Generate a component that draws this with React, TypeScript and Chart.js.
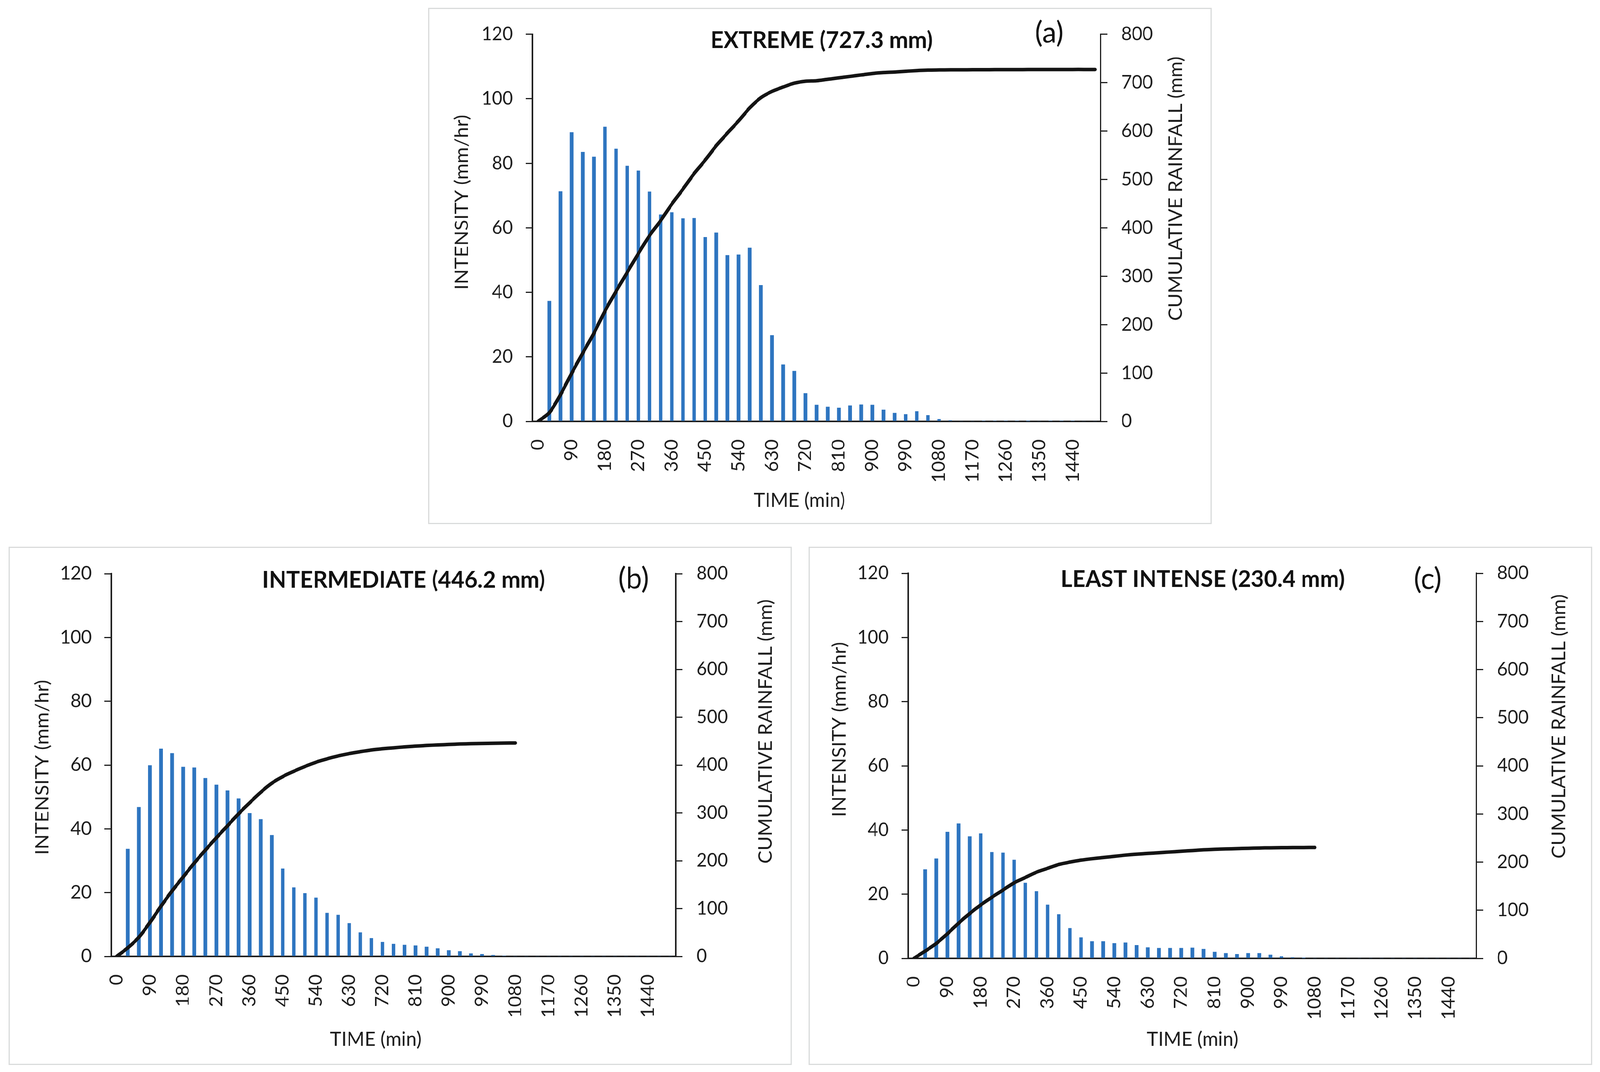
import React, { useEffect, useRef } from "react";
import { Chart, registerables } from "chart.js";

Chart.register(...registerables);

// ---------------- DATA ----------------
const timeCategories = [
  "0", "30", "60", "90", "120", "150", "180", "210", "240", "270",
  "300", "330", "360", "390", "420", "450", "480", "510", "540", "570",
  "600", "630", "660", "690", "720", "750", "780", "810", "840", "870",
  "900", "930", "960", "990", "1020", "1050", "1080", "1110", "1140", "1170",
  "1200", "1230", "1260", "1290", "1320", "1350", "1380", "1410", "1440", "1470",
  "1500",
];

const shownTickLabels = [
  "0", "90", "180", "270", "360", "450", "540", "630", "720", "810",
  "900", "990", "1080", "1170", "1260", "1350", "1440",
];

const extremeIntensity = [
  0, 37.3, 71.3, 89.6, 83.5, 82.0, 91.3, 84.5, 79.2, 77.7,
  71.2, 64.1, 64.8, 62.9, 63.0, 57.1, 58.5, 51.5, 51.7, 53.8,
  42.2, 26.7, 17.6, 15.6, 8.7, 5.1, 4.5, 4.2, 4.9, 5.2,
  5.1, 3.6, 2.6, 2.2, 3.1, 1.9, 0.7, 0.3, 0, 0,
  0.2, 0.2, 0.2, 0.2, 0.1, 0, 0.2, 0.2, 0.2, 0,
  0,
];

const extremeCumulative = [
  0, 18, 55, 99, 141, 182, 228, 269, 308, 347,
  384, 415, 449, 480, 512, 540, 570, 596, 621, 648,
  669, 682, 691, 699, 703, 704, 707, 710, 713, 716,
  719, 721, 722, 723.5, 725, 726, 726.3, 726.5, 726.6, 726.7,
  726.8, 726.9, 727, 727, 727.1, 727.1, 727.2, 727.2, 727.3, 727.3,
  727.3,
];

const intermediateIntensity = [
  0, 33.7, 46.8, 59.9, 65.1, 63.7, 59.4, 59.2, 55.9, 53.8,
  52.0, 49.5, 44.9, 43.0, 38.0, 27.5, 21.6, 19.8, 18.4, 13.6,
  13.0, 10.4, 7.5, 5.7, 4.5, 3.9, 3.6, 3.4, 3.0, 2.5,
  1.9, 1.6, 0.9, 0.7, 0.4, 0.2, 0, 0, 0, 0,
  0, 0, 0, 0, 0, 0, 0, 0, 0, 0,
  0,
];

const intermediateCumulative = [
  0, 18, 40, 71, 105, 137, 166, 195, 222, 248,
  273, 298, 321, 343, 362, 376, 387, 397, 406, 413,
  419, 424, 428, 431.5, 434, 436, 438, 439.5, 441, 442,
  443, 444, 444.6, 445.1, 445.5, 445.9, 446.2, null, null, null,
  null, null, null, null, null, null, null, null, null, null,
  null,
];

const leastIntensity = [
  0, 27.7, 31.1, 39.4, 42.0, 38.0, 38.9, 33.1, 32.9, 30.7,
  23.5, 20.9, 16.7, 13.7, 9.4, 6.5, 5.3, 5.3, 4.7, 4.9,
  4.1, 3.4, 3.2, 3.2, 3.2, 3.3, 2.9, 2.0, 1.6, 1.3,
  1.6, 1.6, 1.1, 0.6, 0.3, 0.1, 0, 0, 0, 0,
  0, 0, 0, 0, 0, 0, 0, 0, 0, 0,
  0,
];

const leastCumulative = [
  0, 15, 31, 51, 73, 93, 111, 127, 142, 157,
  168, 179, 187, 195, 200, 204, 207, 209.5, 212, 214.5,
  216.5, 218, 219.5, 221, 222.5, 224, 225.5, 226.5, 227.3, 228,
  228.7, 229.3, 229.7, 230, 230.2, 230.3, 230.4, null, null, null,
  null, null, null, null, null, null, null, null, null, null,
  null,
];

const panelTitles = ["EXTREME (727.3 mm)", "INTERMEDIATE (446.2 mm)", "LEAST INTENSE (230.4 mm)"];
const panelLetters = ["(a)", "(b)", "(c)"];
const leftAxisTitle = "INTENSITY (mm/hr)";
const rightAxisTitle = "CUMULATIVE RAINFALL (mm)";
const xAxisTitle = "TIME (min)";

// ---------------- STYLE / LAYOUT ----------------
const PAGE_W = 4245;
const PAGE_H = 2745;
const FONT = "Lato, 'Open Sans', sans-serif";
const TEXT_COLOR = "#1e1e1e";
const AXIS_COLOR = "#1e1e1e";
const BAR_COLOR = "#2e75c0";
const LINE_COLOR = "#141414";

type Pt = [number, number];
type PanelSpec = {
  key: string;
  title: string;
  letter: string;
  intensity: number[];
  cumulative: (number | null)[];
  box: { x: number; y: number; w: number; h: number };
  plot: { l: number; r: number; t: number; b: number };
  titlePos: Pt;
  letterPos: Pt;
  leftTitlePos: Pt;
  rightTitlePos: Pt;
  xTitlePos: Pt;
};

const panels: PanelSpec[] = [
  {
    key: "a",
    title: panelTitles[0],
    letter: panelLetters[0],
    intensity: extremeIntensity,
    cumulative: extremeCumulative,
    box: { x: 1138, y: 22, w: 2075, h: 1318 },
    plot: { l: 1413, r: 2920, t: 87, b: 1079 },
    titlePos: [2180, 101],
    letterPos: [2784, 81],
    leftTitlePos: [1224, 518],
    rightTitlePos: [3118, 483],
    xTitlePos: [2121, 1280],
  },
  {
    key: "b",
    title: panelTitles[1],
    letter: panelLetters[1],
    intensity: intermediateIntensity,
    cumulative: intermediateCumulative,
    box: { x: 25, y: 1402, w: 2074, h: 1323 },
    plot: { l: 295, r: 1793, t: 1469, b: 2449 },
    titlePos: [1071, 1483],
    letterPos: [1681, 1479],
    leftTitlePos: [111, 1965],
    rightTitlePos: [2030, 1873],
    xTitlePos: [997, 2660],
  },
  {
    key: "c",
    title: panelTitles[2],
    letter: panelLetters[2],
    intensity: leastIntensity,
    cumulative: leastCumulative,
    box: { x: 2147, y: 1402, w: 2075, h: 1323 },
    plot: { l: 2410, r: 3917, t: 1468, b: 2454 },
    titlePos: [3191, 1481],
    letterPos: [3788, 1480],
    leftTitlePos: [2226, 1868],
    rightTitlePos: [4135, 1860],
    xTitlePos: [3164, 2660],
  },
];

function makeTextPlugin(spec: PanelSpec) {
  return {
    id: "panelText_" + spec.key,
    afterDraw(chart: any) {
      const ctx: CanvasRenderingContext2D = chart.ctx;
      const ox = spec.box.x;
      const oy = spec.box.y;
      const put = (
        text: string,
        pos: Pt,
        size: number,
        weight: string,
        rotated: boolean,
        baseFactor: number,
        color: string
      ) => {
        ctx.save();
        ctx.font = `${weight} ${size}px ${FONT}`;
        ctx.fillStyle = color;
        ctx.textAlign = "center";
        ctx.textBaseline = "alphabetic";
        ctx.translate(pos[0] - ox, pos[1] - oy);
        if (rotated) ctx.rotate(-Math.PI / 2);
        ctx.fillText(text, 0, size * baseFactor);
        ctx.restore();
      };
      put(spec.title, spec.titlePos, 60, "bold", false, 0.36, "#111");
      put(spec.letter, spec.letterPos, 76, "normal", false, 0.37, "#111");
      put(leftAxisTitle, spec.leftTitlePos, 51, "normal", true, 0.36, TEXT_COLOR);
      put(rightAxisTitle, spec.rightTitlePos, 50, "normal", true, 0.36, TEXT_COLOR);
      put(xAxisTitle, spec.xTitlePos, 51, "normal", false, 0.36, TEXT_COLOR);
    },
  };
}

function Panel({ spec }: { spec: PanelSpec }) {
  const ref = useRef<HTMLCanvasElement | null>(null);

  useEffect(() => {
    const canvas = ref.current;
    if (!canvas) return;
    const { box, plot } = spec;
    const leftW = plot.l - box.x;
    const rightW = box.x + box.w - plot.r;
    const topPad = plot.t - box.y;
    const bottomH = box.y + box.h - plot.b;

    const tickFont = { family: FONT, size: 48 };

    const chart = new Chart(canvas, {
      type: "bar",
      data: {
        labels: timeCategories,
        datasets: [
          {
            type: "line",
            label: "Cumulative rainfall",
            data: spec.cumulative,
            yAxisID: "y1",
            borderColor: LINE_COLOR,
            backgroundColor: LINE_COLOR,
            borderWidth: 9,
            pointRadius: 0,
            tension: 0.3,
            borderCapStyle: "round",
            borderJoinStyle: "round",
            fill: false,
            spanGaps: false,
          } as any,
          {
            type: "bar",
            label: "Intensity",
            data: spec.intensity,
            yAxisID: "y",
            backgroundColor: BAR_COLOR,
            borderWidth: 0,
            barThickness: 9,
          } as any,
        ],
      },
      options: {
        animation: false,
        responsive: false,
        devicePixelRatio: 1,
        layout: { padding: { top: topPad, left: 0, right: 0, bottom: 0 } },
        plugins: {
          legend: { display: false },
          tooltip: { enabled: false },
          title: { display: false },
        },
        scales: {
          x: {
            type: "category",
            offset: true,
            grid: { display: false },
            border: { display: true, color: AXIS_COLOR, width: 4 },
            ticks: {
              autoSkip: false,
              minRotation: 90,
              maxRotation: 90,
              padding: 38,
              color: TEXT_COLOR,
              font: tickFont,
              callback: (_v: any, index: number) => {
                const lab = timeCategories[index];
                return shownTickLabels.includes(lab) ? lab : "";
              },
            },
            afterFit: (scale: any) => {
              scale.height = bottomH;
            },
          },
          y: {
            position: "left",
            min: 0,
            max: 120,
            grid: {
              display: true,
              drawOnChartArea: false,
              drawTicks: true,
              tickLength: 18,
              color: AXIS_COLOR,
              lineWidth: 3,
            },
            border: { display: true, color: AXIS_COLOR, width: 4 },
            ticks: { stepSize: 20, padding: 34, color: TEXT_COLOR, font: tickFont },
            afterFit: (scale: any) => {
              scale.width = leftW;
            },
          },
          y1: {
            position: "right",
            min: 0,
            max: 800,
            grid: {
              display: true,
              drawOnChartArea: false,
              drawTicks: true,
              tickLength: 18,
              color: AXIS_COLOR,
              lineWidth: 3,
            },
            border: { display: true, color: AXIS_COLOR, width: 4 },
            ticks: { stepSize: 100, padding: 37, color: TEXT_COLOR, font: tickFont },
            afterFit: (scale: any) => {
              scale.width = rightW;
            },
          },
        },
      } as any,
      plugins: [makeTextPlugin(spec)],
    });

    return () => {
      chart.destroy();
    };
  }, [spec]);

  const { box } = spec;
  return (
    <>
      <div
        style={{
          position: "absolute",
          left: box.x,
          top: box.y,
          width: box.w,
          height: box.h,
          background: "#ffffff",
        }}
      >
        <canvas
          ref={ref}
          width={box.w}
          height={box.h}
          style={{ width: box.w, height: box.h, display: "block" }}
        />
      </div>
      <div
        style={{
          position: "absolute",
          left: box.x - 2,
          top: box.y - 2,
          width: box.w + 4,
          height: box.h + 4,
          border: "3px solid #d9dbdb",
          boxSizing: "border-box",
          pointerEvents: "none",
        }}
      />
    </>
  );
}

export default function App() {
  // Fit the 4245x2745 figure into whatever viewport the browser actually provides.
  const vw = typeof window !== "undefined" ? window.innerWidth || PAGE_W : PAGE_W;
  const vh = typeof window !== "undefined" ? window.innerHeight || PAGE_H : PAGE_H;
  const sx = Math.min(1, vw / PAGE_W);
  const sy = Math.min(1, vh / PAGE_H);

  useEffect(() => {
    document.body.style.overflow = "hidden";
    document.documentElement.style.overflow = "hidden";
  }, []);

  return (
    <div
      style={{
        position: "fixed",
        left: 0,
        top: 0,
        width: PAGE_W,
        height: PAGE_H,
        background: "#ffffff",
        overflow: "hidden",
        transformOrigin: "0 0",
        transform: `scale(${sx}, ${sy})`,
      }}
    >
      {panels.map((p) => (
        <Panel key={p.key} spec={p} />
      ))}
    </div>
  );
}
